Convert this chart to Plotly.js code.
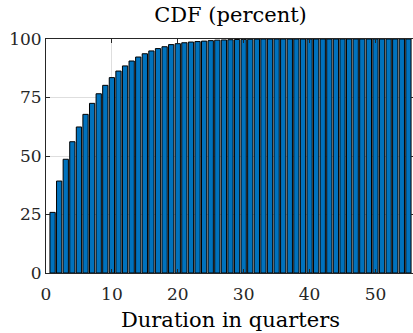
<!DOCTYPE html>
<html>
<head>
<meta charset="utf-8">
<script src="https://cdn.plot.ly/plotly-3.0.1.min.js"></script>
<style>
  html, body { margin: 0; padding: 0; overflow: hidden; background: #fff; }
  #chart { width: 415px; height: 333px; }
</style>
</head>
<body>
<div id="chart"></div>
<script>
// Duration in quarters (1..55)
const quarters = Array.from({length: 55}, (_, i) => i + 1);

// Cumulative share of spells ending by each quarter (percent)
const cdfPercent = [
  25.9, 39.3, 48.6, 56.1, 62.4, 67.8, 72.5, 76.6, 80.2, 83.5,
  86.3, 88.5, 90.6, 92.3, 93.7, 94.9, 95.9, 96.7, 97.6, 98.0,
  98.4, 98.7, 98.9, 99.1, 99.3, 99.5, 99.6, 99.7, 99.8, 99.85,
  99.9, 99.95, 100, 100, 100, 100, 100, 100, 100, 100,
  100, 100, 100, 100, 100, 100, 100, 100, 100, 100,
  100, 100, 100, 100, 100
];

const xTicks = [0, 10, 20, 30, 40, 50];
const yTicks = [0, 25, 50, 75, 100];

const serif = '"DejaVu Serif", "Liberation Serif", serif';
const ink = '#262626';

const trace = {
  type: 'bar',
  x: quarters,
  y: cdfPercent,
  width: 0.8,
  marker: { color: '#0072BD', line: { color: '#000000', width: 1 } },
  hoverinfo: 'x+y'
};

function axisBase() {
  return {
    showline: true,
    linecolor: ink,
    linewidth: 1,
    mirror: 'ticks',
    ticks: 'inside',
    ticklen: 4,
    tickcolor: ink,
    tickwidth: 1,
    showgrid: true,
    gridcolor: '#dedede',
    gridwidth: 1,
    zeroline: false,
    tickfont: { family: serif, size: 17, color: ink },
    fixedrange: true
  };
}

const layout = {
  width: 415,
  height: 333,
  margin: { l: 46, r: 0, t: 39, b: 60 },
  font: { family: serif, size: 17, color: ink },
  paper_bgcolor: '#ffffff',
  plot_bgcolor: '#ffffff',
  showlegend: false,
  bargap: 0,
  title: {
    text: 'CDF (percent)',
    font: { family: serif, size: 21, color: '#000000' },
    x: 0.5,
    xref: 'paper',
    xanchor: 'center',
    y: 1 - 22 / 333,
    yref: 'container',
    yanchor: 'bottom'
  },
  xaxis: Object.assign(axisBase(), {
    range: [0, 56],
    tickmode: 'array',
    tickvals: xTicks,
    ticktext: xTicks.map(String),
    ticklabelstandoff: 6,
    title: {
      text: 'Duration in quarters',
      font: { family: serif, size: 21, color: '#000000' },
      standoff: 8
    }
  }),
  yaxis: Object.assign(axisBase(), {
    range: [0, 100],
    tickmode: 'array',
    tickvals: yTicks,
    ticktext: yTicks.map(String),
    ticklabelstandoff: 0
  })
};

Plotly.newPlot('chart', [trace], layout, { displayModeBar: false, staticPlot: true });
</script>
</body>
</html>
